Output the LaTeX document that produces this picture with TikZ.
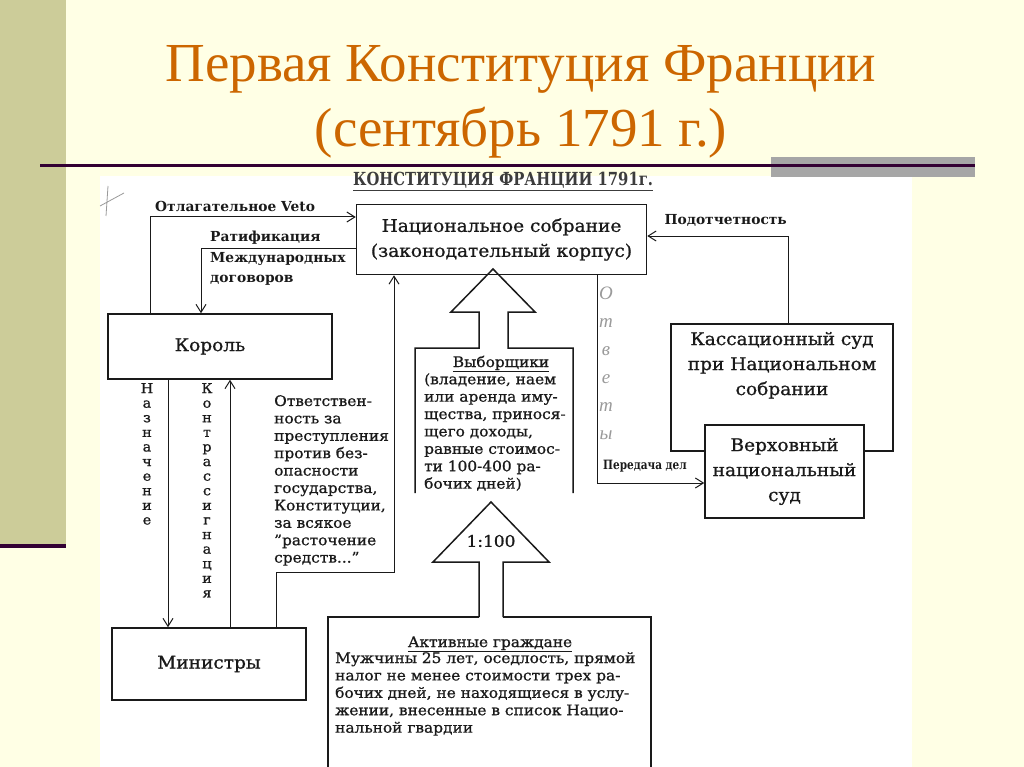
\documentclass[tikz,border=0pt]{standalone}
\usepackage{fontspec}
\setmainfont{DejaVu Serif}[FakeBold=0.9, FakeStretch=1.06]
\newfontfamily\titlefont{Liberation Serif}
\newfontfamily\labelfont{DejaVu Serif}
\newfontfamily\condfont{DejaVu Serif}[FakeStretch=0.82]
\usetikzlibrary{positioning,arrows.meta}
\definecolor{cream}{HTML}{FFFFE5}
\definecolor{olive}{HTML}{CCCC99}
\definecolor{plum}{HTML}{330033}
\definecolor{slidegray}{HTML}{A6A6A6}
\definecolor{titleorange}{HTML}{CC6600}
\definecolor{ink}{HTML}{1A1A1A}
\definecolor{pencil}{HTML}{9A9A9A}
\tikzset{
  box/.style={draw=ink, line width=1.5pt, fill=white, inner sep=0pt, align=center,
    text=ink, font=\fontsize{17.5}{25}\selectfont},
  lbl/.style={inner sep=0pt, text=ink, align=left, font=\labelfont\bfseries\fontsize{13.8}{20.5}\selectfont},
  txt/.style={inner sep=0pt, text=ink, align=left, font=\fontsize{14.5}{17.4}\selectfont},
  vert/.style={anchor=north, inner sep=0pt, text=ink, align=center, font=\fontsize{13.5}{14.6}\selectfont},
  link/.style={draw=ink, line width=1pt},
  arr/.style={link, -{Straight Barb[length=8pt,width=10pt]}},
  blockarrow/.style={draw=ink, line width=1.5pt, line join=miter},
}

\begin{document}
\begin{tikzpicture}[x=1pt,y=-1pt]
\useasboundingbox (0,0) rectangle (1024,767);
% slide background, side strip, rule under the title
\fill[cream] (0,0) rectangle (1024,767);
\fill[olive] (0,0) rectangle (66,544);
\fill[plum] (0,544) rectangle (66,548);
% scanned sheet
\fill[white] (100,176) rectangle (912,767);
\fill[slidegray] (771,157) rectangle (975,177);
\fill[plum] (40,164) rectangle (975,167);
% TITLE
\node[font=\titlefont\fontsize{55}{55}\selectfont, text=titleorange, anchor=base] (ttl1) at (521,82) {Первая Конституция Франции};
\node[font=\titlefont\fontsize{55}{55}\selectfont, text=titleorange, anchor=base] (ttl2) at (521,147) {(сентябрь 1791 г.)};
\node[font=\condfont\bfseries\fontsize{18}{20}\selectfont, text=ink!85, anchor=base] (hdr) at (503,186) {\underline{КОНСТИТУЦИЯ ФРАНЦИИ 1791г.}};
\draw[pencil, line width=0.8pt] (108,186) -- (106,216) (100,206) -- (124,193);

% NODE 1: legislative body
\node[box, minimum width=290pt, minimum height=70pt] (nat) at (501.5,239.5) {Национальное собрание\\(законодательный корпус)};
% NODE 2: king and ministers
\node[box, minimum width=224pt, minimum height=65pt] (king) at (220,346.5) {Король\hspace*{20pt}};
\node[box, minimum width=194pt, minimum height=72pt] (min) at (209,664) {Министры};
% NODE 3: courts
\node[box, minimum width=222pt, minimum height=127pt, text depth=48pt] (cass) at (782,387.5) {Кассационный суд\\при Национальном\\собрании};
\node[box, minimum width=159pt, minimum height=93pt] (supr) at (784.5,471.5) {Верховный\\национальный\\суд};

% veto and ratification
\coordinate (vetoC) at (150,217);
\coordinate (ratC) at (201,248);
\draw[arr] (king.north -| vetoC) -- (vetoC) -- (nat.west |- vetoC);
\draw[arr] (nat.west |- ratC) -- (ratC) -- (king.north -| ratC);
\node[lbl, above right=5pt and 5pt of vetoC] (veto) {Отлагательное Veto};
\node[lbl, anchor=north west] (rat) at (210,231) {Ратификация\\Международных\\договоров};

% appointment and countersignature
\coordinate (appC) at (168,0);
\coordinate (cntC) at (230,0);
\draw[arr] (king.south -| appC) -- (min.north -| appC);
\draw[arr] (min.north -| cntC) -- (king.south -| cntC);
\node[vert] (app) at (147,383) {Н\\а\\з\\н\\а\\ч\\е\\н\\и\\е};
\node[vert] (cnt) at (207,383) {К\\о\\н\\т\\р\\а\\с\\с\\и\\г\\н\\а\\ц\\и\\я};

% responsibility of ministers
\coordinate (respA) at (276,572);
\coordinate (respB) at (394,572);
\draw[arr] (min.north -| respA) -- (respA) -- (respB) -- (nat.south -| respB);
\node[txt, anchor=north west] (resp) at (274,395) {Ответствен-\\ность за\\преступления\\против без-\\опасности\\государства,\\Конституции,\\за всякое\\"расточение\\средств..."};

% accountability and transfer of cases
\coordinate (podC) at (788,236);
\coordinate (passC) at (597,483);
\draw[arr] (cass.north -| podC) -- (podC) -- (nat.east |- podC);
\draw[arr] (nat.south -| passC) -- (passC) -- (supr.west |- passC);
\node[lbl, above left=9pt and 1pt of podC] (pod) {Подотчетность};
\node[inner sep=0pt, text=ink, font=\condfont\bfseries\fontsize{12.8}{14}\selectfont, above right=11pt and 6pt of passC] (pass) {Передача дел};
\node[vert, text=pencil, font=\titlefont\itshape\fontsize{19}{28}\selectfont] (ans) at (606,287) {О\\т\\в\\е\\т\\ы};

% electors (block arrow up to the assembly)
\draw[blockarrow] (415,493) -- (415,348) -- (479,348) -- (479,312) -- (451,312) -- (493,269)
  -- (535,312) -- (508,312) -- (508,348) -- (573,348) -- (573,493);
\node[txt, anchor=base] (electT) at (501,367) {\underline{Выборщики}};
\node[txt, anchor=north west] (elect) at (424,373) {(владение, наем\\или аренда иму-\\щества, принося-\\щего доходы,\\равные стоимос-\\ти 100-400 ра-\\бочих дней)};

% active citizens (1:100)
\draw[blockarrow] (479,617) -- (479,562) -- (433,562) -- (491,502) -- (549,562) -- (503,562) -- (503,617);
\node[font=\fontsize{16}{18}\selectfont, text=ink] (ratio) at (491,541) {1:100};
\draw[blockarrow] (328,767) -- (328,617) -- (479,617) (503,617) -- (651,617) -- (651,767);
\node[txt, anchor=base] (actT) at (490,647) {\underline{Активные граждане}};
\node[txt, anchor=north west] (act) at (335,652) {Мужчины 25 лет, оседлость, прямой\\налог не менее стоимости трех ра-\\бочих дней, не находящиеся в услу-\\жении, внесенные в список Нацио-\\нальной гвардии};
\end{tikzpicture}
\end{document}
